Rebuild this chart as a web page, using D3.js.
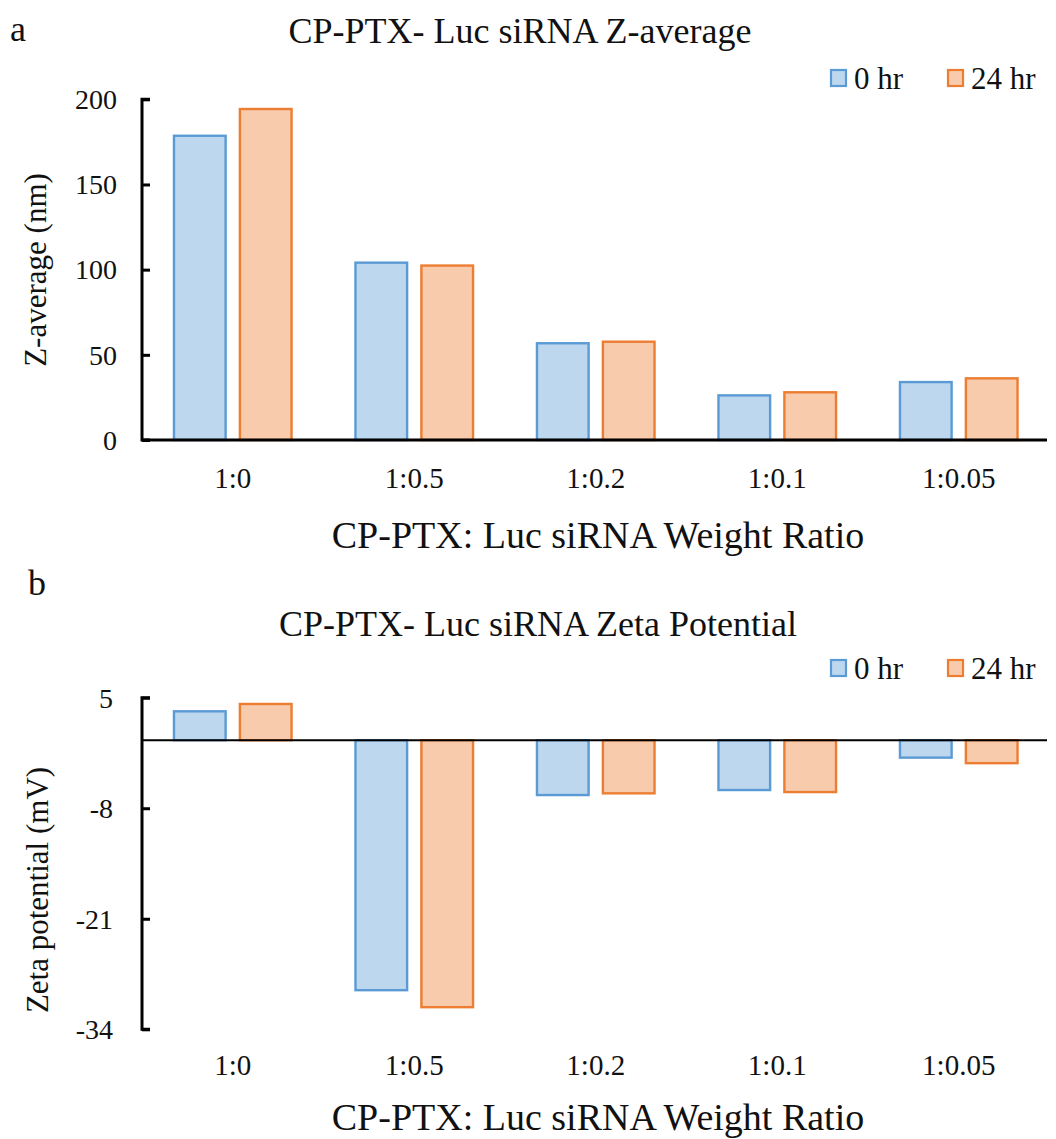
<html>

<head>
    <meta charset="utf-8">
    <title>CP-PTX Luc siRNA</title>

    <style>
        body {
            padding: 0;
            margin: 0;
            background: white;
        }

        .axis path,
        .axis line {
            stroke: black;
        }
    </style>
</head>

<body>

    <div id="chart"></div>

    <script src="https://d3js.org/d3.v7.min.js"></script>

    <script>
        // data
        var ratios = ["1:0", "1:0.5", "1:0.2", "1:0.1", "1:0.05"];
        var series = ["0 hr", "24 hr"];

        var zavg0 = [178.6, 104.1, 56.8, 26.2, 34.0];
        var zavg24 = [194.3, 102.4, 57.7, 28.0, 36.2];
        var zavgTicks = [0, 50, 100, 150, 200];

        var zeta0 = [3.4, -29.4, -6.45, -5.86, -2.05];
        var zeta24 = [4.26, -31.4, -6.25, -6.1, -2.7];
        var zetaTicks = [5, -8, -21, -34];

        var fills = ["#bdd7ee", "#f8cbad"];
        var strokes = ["#5b9bd5", "#ed7d31"];

        var serif = "'Liberation Serif', 'DejaVu Serif', 'Noto Serif', serif";

        var width = 1056,
            height = 1139;

        var svg = d3.select("#chart")
            .append("svg")
            .attr("width", width)
            .attr("height", height)
            .attr("font-family", serif);

        var x0 = d3.scaleBand()
            .domain(ratios)
            .range([142, 1049.5])
            .paddingInner(0.339)
            .paddingOuter(0.1695);

        var x1 = d3.scaleBand()
            .domain(series)
            .range([0, x0.bandwidth()])
            .paddingInner(0.18);

        function label(sel, size) {
            return sel.append("text")
                .style("font-family", serif)
                .style("font-size", size + "px")
                .attr("fill", "#111");
        }

        function drawChart(opt) {
            var g = svg.append("g");

            var y = d3.scaleLinear()
                .domain(opt.domain)
                .range(opt.range);

            var rows = ratios.map(function (r, i) {
                return { ratio: r, values: [opt.a[i], opt.b[i]] };
            });

            // bars
            g.selectAll("g.group")
                .data(rows)
                .enter()
                .append("g")
                .attr("class", "group")
                .attr("transform", function (d) { return "translate(" + x0(d.ratio) + ",0)"; })
                .selectAll("rect")
                .data(function (d) {
                    return d.values.map(function (v, k) { return { s: series[k], k: k, v: v }; });
                })
                .enter()
                .append("rect")
                .attr("x", function (d) { return x1(d.s) + 1.2; })
                .attr("width", x1.bandwidth() - 2.4)
                .attr("y", function (d) { return y(Math.max(0, d.v)); })
                .attr("height", function (d) { return Math.abs(y(d.v) - y(0)); })
                .attr("fill", function (d) { return fills[d.k]; })
                .attr("stroke", function (d) { return strokes[d.k]; })
                .attr("stroke-width", 2.4);

            // y axis, ticks pointing inward
            var yAxis = g.append("g")
                .attr("class", "axis")
                .attr("transform", "translate(142,0)")
                .call(d3.axisRight(y).tickValues(opt.ticks).tickSize(8).tickFormat(""));
            yAxis.select(".domain").attr("stroke-width", 3).attr("d",
                "M8," + y(opt.domain[1]) + "H0V" + y(opt.domain[0]) + "H8");
            yAxis.selectAll(".tick line").attr("stroke-width", 3);

            opt.ticks.forEach(function (t) {
                label(g, 28)
                    .attr("x", opt.tickX)
                    .attr("y", y(t))
                    .attr("dy", "0.35em")
                    .attr("text-anchor", "end")
                    .text(t);
            });

            // zero / baseline
            g.append("line")
                .attr("x1", 142)
                .attr("x2", 1047)
                .attr("y1", y(0))
                .attr("y2", y(0))
                .attr("stroke", "black")
                .attr("stroke-width", opt.zeroWidth);

            // category labels
            ratios.forEach(function (r) {
                label(g, 29)
                    .attr("x", x0(r) + x0.bandwidth() / 2)
                    .attr("y", opt.catY)
                    .attr("text-anchor", "middle")
                    .text(r);
            });

            // titles
            label(g, 36)
                .attr("x", opt.titleX)
                .attr("y", opt.titleY)
                .attr("text-anchor", "middle")
                .text(opt.title);

            label(g, 36)
                .attr("y", opt.titleY - 2 + opt.letterDy)
                .attr("x", opt.letterX)
                .text(opt.letter);

            label(g, 38)
                .attr("x", 598)
                .attr("y", opt.xTitleY)
                .attr("text-anchor", "middle")
                .text("CP-PTX: Luc siRNA Weight Ratio");

            label(g, 31)
                .attr("transform", "translate(" + opt.yTitleX + "," + opt.yTitleY + ") rotate(-90)")
                .attr("text-anchor", "middle")
                .text(opt.yTitle);

            // legend
            series.forEach(function (s, i) {
                var leg = g.append("g")
                    .attr("transform", "translate(" + (831 + i * 117) + "," + opt.legY + ")");
                leg.append("rect")
                    .attr("x", 0)
                    .attr("y", -8)
                    .attr("width", 15)
                    .attr("height", 16)
                    .attr("fill", fills[i])
                    .attr("stroke", strokes[i])
                    .attr("stroke-width", 2.2);
                label(leg, 31)
                    .attr("x", 23)
                    .attr("y", 0)
                    .attr("dy", "0.35em")
                    .text(s);
            });
        }

        drawChart({
            a: zavg0, b: zavg24, ticks: zavgTicks,
            domain: [0, 200], range: [440, 99.3],
            zeroWidth: 3, tickX: 117, catY: 488,
            title: "CP-PTX- Luc siRNA Z-average", titleX: 520, titleY: 43,
            letter: "a", letterX: 10, letterDy: 0,
            xTitleY: 548, yTitle: "Z-average (nm)", yTitleX: 46, yTitleY: 270,
            legY: 78
        });

        drawChart({
            a: zeta0, b: zeta24, ticks: zetaTicks,
            domain: [-34, 5], range: [1029.3, 697.7],
            zeroWidth: 2, tickX: 113, catY: 1075,
            title: "CP-PTX- Luc siRNA Zeta Potential", titleX: 538, titleY: 636,
            letter: "b", letterX: 28, letterDy: -39,
            xTitleY: 1130, yTitle: "Zeta potential (mV)", yTitleX: 48, yTitleY: 890,
            legY: 668
        });
    </script>
</body>

</html>
